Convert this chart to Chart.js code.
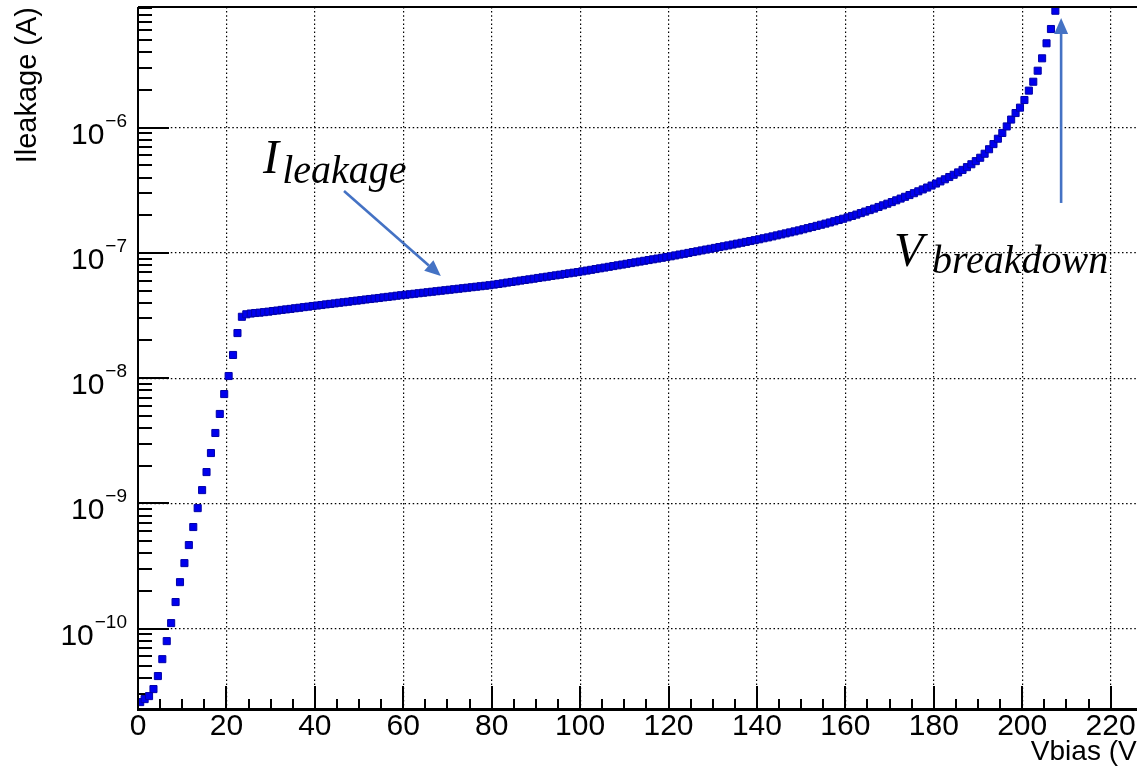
<!DOCTYPE html>
<html><head><meta charset="utf-8">
<script src="https://cdn.jsdelivr.net/npm/chart.js@4.4.1/dist/chart.umd.min.js"></script>
<style>
html,body{margin:0;padding:0;overflow:hidden;background:#fff;width:1137px;height:773px;}
canvas{display:block;}
</style></head><body>
<canvas id="c" width="1160" height="773" style="width:1160px;height:773px"></canvas>
<script>
// ---- data ----
const vbias = [
0.5,1.5,2.5,3.5,4.5,5.5,6.5,7.5,8.5,9.5,10.5,11.5,12.5,13.5,14.5,15.5,16.5,17.5,18.5,19.5,
20.5,21.5,22.5,23.5,24.5,25.5,26.5,27.5,28.5,29.5,30.5,31.5,32.5,33.5,34.5,35.5,36.5,37.5,38.5,39.5,
40.5,41.5,42.5,43.5,44.5,45.5,46.5,47.5,48.5,49.5,50.5,51.5,52.5,53.5,54.5,55.5,56.5,57.5,58.5,59.5,
60.5,61.5,62.5,63.5,64.5,65.5,66.5,67.5,68.5,69.5,70.5,71.5,72.5,73.5,74.5,75.5,76.5,77.5,78.5,79.5,
80.5,81.5,82.5,83.5,84.5,85.5,86.5,87.5,88.5,89.5,90.5,91.5,92.5,93.5,94.5,95.5,96.5,97.5,98.5,99.5,
100.5,101.5,102.5,103.5,104.5,105.5,106.5,107.5,108.5,109.5,110.5,111.5,112.5,113.5,114.5,115.5,116.5,117.5,118.5,119.5,
120.5,121.5,122.5,123.5,124.5,125.5,126.5,127.5,128.5,129.5,130.5,131.5,132.5,133.5,134.5,135.5,136.5,137.5,138.5,139.5,
140.5,141.5,142.5,143.5,144.5,145.5,146.5,147.5,148.5,149.5,150.5,151.5,152.5,153.5,154.5,155.5,156.5,157.5,158.5,159.5,
160.5,161.5,162.5,163.5,164.5,165.5,166.5,167.5,168.5,169.5,170.5,171.5,172.5,173.5,174.5,175.5,176.5,177.5,178.5,179.5,
180.5,181.5,182.5,183.5,184.5,185.5,186.5,187.5,188.5,189.5,190.5,191.5,192.5,193.5,194.5,195.5,196.5,197.5,198.5,199.5,
200.5,201.5,202.5,203.5,204.5,205.5,206.5,207.5
];
// log10 of the leakage current in A, one per vbias point
const ileakLog10 = [
-10.587,-10.563,-10.539,-10.483,-10.379,-10.244,-10.100,-9.956,-9.788,-9.629,
-9.477,-9.333,-9.189,-9.038,-8.894,-8.750,-8.598,-8.438,-8.286,-8.127,
-7.983,-7.815,-7.640,-7.510,-7.490,-7.484,-7.480,-7.477,-7.473,-7.469,
-7.464,-7.460,-7.455,-7.451,-7.447,-7.442,-7.438,-7.433,-7.429,-7.424,
-7.420,-7.416,-7.411,-7.407,-7.403,-7.398,-7.394,-7.390,-7.385,-7.381,
-7.377,-7.372,-7.368,-7.364,-7.360,-7.355,-7.351,-7.347,-7.342,-7.338,
-7.334,-7.330,-7.326,-7.322,-7.318,-7.314,-7.310,-7.306,-7.302,-7.298,
-7.294,-7.290,-7.286,-7.282,-7.278,-7.274,-7.270,-7.266,-7.262,-7.258,
-7.253,-7.248,-7.243,-7.237,-7.232,-7.227,-7.221,-7.216,-7.211,-7.206,
-7.200,-7.195,-7.190,-7.184,-7.179,-7.174,-7.168,-7.163,-7.158,-7.153,
-7.147,-7.141,-7.135,-7.129,-7.123,-7.117,-7.111,-7.105,-7.099,-7.093,
-7.087,-7.081,-7.075,-7.069,-7.063,-7.057,-7.051,-7.045,-7.039,-7.033,
-7.027,-7.020,-7.013,-7.007,-7.000,-6.993,-6.987,-6.980,-6.973,-6.967,
-6.960,-6.953,-6.947,-6.940,-6.933,-6.926,-6.919,-6.912,-6.905,-6.898,
-6.891,-6.883,-6.876,-6.868,-6.860,-6.852,-6.844,-6.836,-6.828,-6.820,
-6.811,-6.802,-6.793,-6.784,-6.775,-6.766,-6.757,-6.747,-6.737,-6.727,
-6.716,-6.705,-6.694,-6.682,-6.670,-6.658,-6.646,-6.633,-6.620,-6.607,
-6.594,-6.580,-6.566,-6.552,-6.538,-6.523,-6.508,-6.493,-6.478,-6.462,
-6.446,-6.429,-6.412,-6.394,-6.376,-6.357,-6.337,-6.315,-6.292,-6.267,
-6.240,-6.208,-6.172,-6.131,-6.088,-6.042,-5.990,-5.935,-5.883,-5.840,
-5.779,-5.704,-5.633,-5.545,-5.446,-5.326,-5.212,-5.066
];
const xRange = [0, 228];
const yRange = [2.28e-11, 9.2e-6];
const xMinorStep = 5;
const xLabelStep = 20;
const yDecadeLabels = [-10, -9, -8, -7, -6];
const xTitle = 'Vbias (V)';
const yTitle = 'Ileakage (A)';
// annotations in data units (x in V, y as log10 A)
const noteLeak = { main: 'I', sub: 'leakage', mainAt: [28.3, -6.362], subAt: [32.6, -6.442] };
const arrowLeak = { from: [46.6, -6.506], to: [68.5, -7.184] };
const noteBreak = { main: 'V', sub: 'breakdown', mainAt: [171.0, -7.105], subAt: [179.6, -7.161] };
const arrowBreak = { from: [208.8, -6.601], to: [208.8, -5.124] };

// ---- chart ----
const isDecade = v => Math.abs(Math.log10(v) - Math.round(Math.log10(v))) < 1e-6;
const AX = '#000';
const annBlue = '#4472C4';

function drawArrow(ctx, x, y, a) {
  const x0 = x.getPixelForValue(a.from[0]), y0 = y.getPixelForValue(Math.pow(10, a.from[1]));
  const x1 = x.getPixelForValue(a.to[0]), y1 = y.getPixelForValue(Math.pow(10, a.to[1]));
  const ang = Math.atan2(y1 - y0, x1 - x0);
  const hl = 16, hw = 7;
  const bx = x1 - hl * Math.cos(ang), by = y1 - hl * Math.sin(ang);
  ctx.strokeStyle = annBlue; ctx.fillStyle = annBlue; ctx.lineWidth = 2.6;
  ctx.beginPath(); ctx.moveTo(x0, y0); ctx.lineTo(bx, by); ctx.stroke();
  ctx.beginPath();
  ctx.moveTo(x1, y1);
  ctx.lineTo(bx + hw * Math.sin(ang), by - hw * Math.cos(ang));
  ctx.lineTo(bx - hw * Math.sin(ang), by + hw * Math.cos(ang));
  ctx.closePath(); ctx.fill();
}
function drawNote(ctx, x, y, n) {
  ctx.fillStyle = '#000'; ctx.textAlign = 'left'; ctx.textBaseline = 'alphabetic';
  ctx.font = 'italic 48px "Liberation Serif"';
  ctx.fillText(n.main, x.getPixelForValue(n.mainAt[0]), y.getPixelForValue(Math.pow(10, n.mainAt[1])));
  ctx.font = 'italic 40px "Liberation Serif"';
  ctx.fillText(n.sub, x.getPixelForValue(n.subAt[0]), y.getPixelForValue(Math.pow(10, n.subAt[1])));
}

const rootAxes = {
  id: 'rootAxes',
  beforeDatasetsDraw(chart) {
    const { ctx, chartArea: a, scales: { x, y } } = chart;
    ctx.save();
    ctx.setLineDash([]);
    ctx.strokeStyle = AX; ctx.lineWidth = 2;
    ctx.beginPath();
    x.ticks.forEach(t => {
      const v = t.value;
      if (Math.abs(v / xMinorStep - Math.round(v / xMinorStep)) > 1e-9) return;
      const px = Math.round(x.getPixelForValue(v));
      const len = (Math.round(v) % xLabelStep === 0) ? 23 : 10;
      ctx.moveTo(px, a.bottom); ctx.lineTo(px, a.bottom - len);
    });
    y.ticks.forEach(t => {
      const py = Math.round(y.getPixelForValue(t.value));
      const len = isDecade(t.value) ? 31 : 14;
      ctx.moveTo(a.left, py); ctx.lineTo(a.left + len, py);
    });
    ctx.stroke();
    // y tick labels as 10^n
    ctx.fillStyle = AX; ctx.textAlign = 'right'; ctx.textBaseline = 'alphabetic';
    yDecadeLabels.forEach(d => {
      const py = y.getPixelForValue(Math.pow(10, d));
      const exp = '\u2212' + Math.abs(d);
      ctx.font = '19px "Liberation Sans"';
      const ew = ctx.measureText(exp).width;
      ctx.fillText(exp, 127, py - 1);
      ctx.font = '30px "Liberation Sans"';
      ctx.fillText('10', 127 - ew - 1, py + 16);
    });
    ctx.restore();
  },
  afterDraw(chart) {
    const { ctx, chartArea: a, scales: { x, y } } = chart;
    ctx.save();
    ctx.setLineDash([]);
    ctx.strokeStyle = AX;
    ctx.lineWidth = 2;
    ctx.beginPath(); ctx.moveTo(a.left, a.top); ctx.lineTo(a.right, a.top); ctx.stroke();
    ctx.beginPath(); ctx.moveTo(a.left, a.top); ctx.lineTo(a.left, a.bottom); ctx.stroke();
    ctx.beginPath(); ctx.moveTo(a.right, a.top); ctx.lineTo(a.right, a.bottom); ctx.stroke();
    ctx.lineWidth = 3;
    ctx.beginPath(); ctx.moveTo(a.left - 1, a.bottom + 0.5); ctx.lineTo(a.right, a.bottom + 0.5); ctx.stroke();
    drawArrow(ctx, x, y, arrowLeak);
    drawArrow(ctx, x, y, arrowBreak);
    drawNote(ctx, x, y, noteLeak);
    drawNote(ctx, x, y, noteBreak);
    ctx.restore();
  }
};

new Chart(document.getElementById('c'), {
  type: 'scatter',
  data: {
    datasets: [{
      data: vbias.map((v, i) => ({ x: v, y: Math.pow(10, ileakLog10[i]) })),
      showLine: false,
      pointStyle: 'rect',
      pointRadius: 5,
      backgroundColor: '#0000ee',
      borderColor: '#0000a8',
      borderWidth: 1
    }]
  },
  options: {
    responsive: false,
    animation: false,
    devicePixelRatio: 1,
    events: [],
    layout: { padding: { top: 7, right: 14, left: 0, bottom: 0 } },
    plugins: { legend: { display: false }, tooltip: { enabled: false } },
    scales: {
      x: {
        type: 'linear',
        min: xRange[0], max: xRange[1],
        afterFit(s) { s.height = 64; },
        ticks: {
          stepSize: xMinorStep, autoSkip: false, maxRotation: 0, padding: 0,
          color: AX, font: { family: 'Liberation Sans', size: 30 },
          callback: v => (Math.round(v) % xLabelStep === 0 && Math.abs(v - Math.round(v)) < 1e-9) ? String(Math.round(v)) : ''
        },
        grid: {
          drawTicks: false, tickLength: 0, lineWidth: 1.2,
          color: c => (c.tick && c.tick.value > 0 && c.tick.value % xLabelStep === 0) ? AX : 'rgba(0,0,0,0)'
        },
        border: { display: false, dash: [1.5, 2.6] },
        title: { display: true, text: xTitle, align: 'end', color: AX,
          font: { family: 'Liberation Sans', size: 28 }, padding: { top: 0, bottom: 4 } }
      },
      y: {
        type: 'logarithmic',
        min: yRange[0], max: yRange[1],
        afterFit(s) { s.width = 138; },
        afterBuildTicks(s) {
          const t = [];
          for (let e = Math.floor(Math.log10(s.min)); e <= Math.ceil(Math.log10(s.max)); e++) {
            for (let m = 1; m <= 9; m++) {
              const v = m * Math.pow(10, e);
              if (v >= s.min && v <= s.max) t.push({ value: v });
            }
          }
          s.ticks = t;
        },
        ticks: { display: false },
        grid: {
          drawTicks: false, tickLength: 0, lineWidth: 1.2,
          color: c => (c.tick && isDecade(c.tick.value)) ? AX : 'rgba(0,0,0,0)'
        },
        border: { display: false, dash: [1.5, 2.6] },
        title: { display: true, text: yTitle, align: 'end', color: AX,
          font: { family: 'Liberation Sans', size: 29 }, padding: { top: 11, bottom: 0 } }
      }
    }
  },
  plugins: [rootAxes]
});
</script>
</body></html>
